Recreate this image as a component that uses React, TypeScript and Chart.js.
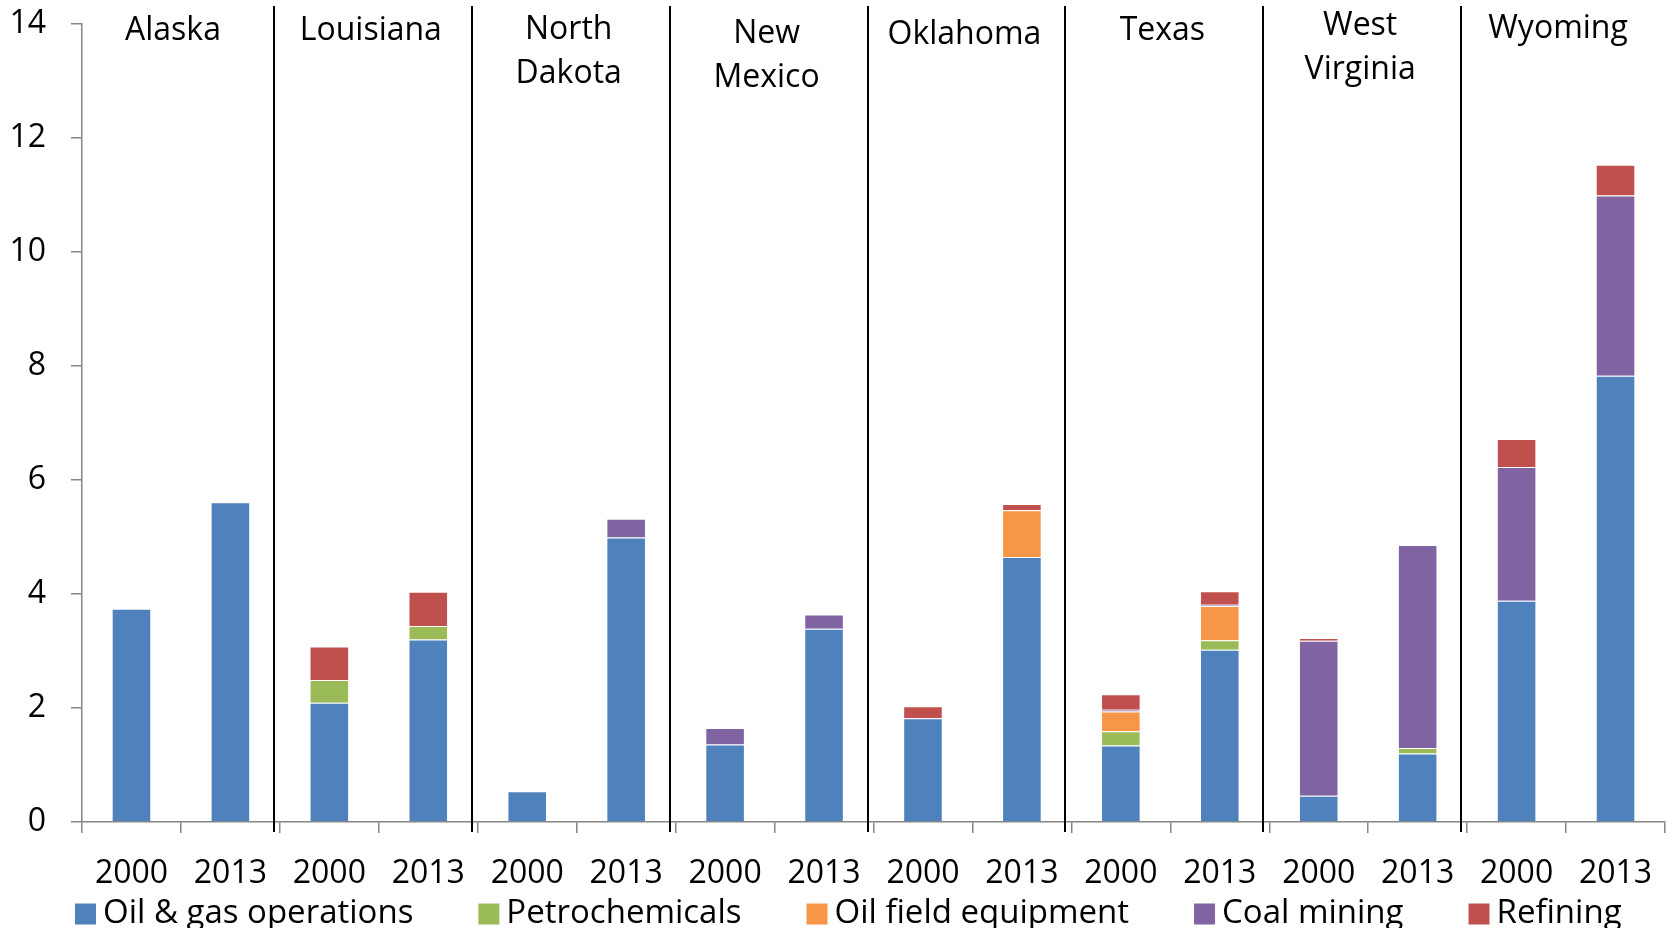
import React, { useEffect, useRef } from 'react';
import { Chart, registerables } from 'chart.js';

Chart.register(...registerables);

// ---- Data ----
const yearLabels = ['2000', '2013', '2000', '2013', '2000', '2013', '2000', '2013', '2000', '2013', '2000', '2013', '2000', '2013', '2000', '2013'];
const stateNames = [['Alaska'], ['Louisiana'], ['North', 'Dakota'], ['New', 'Mexico'], ['Oklahoma'], ['Texas'], ['West', 'Virginia'], ['Wyoming']];
const stateLabelDy = [0, 0, -1, 3, 4, 0, -5, -2];

const oilGasOperations = [3.74, 5.61, 2.09, 3.20, 0.54, 4.99, 1.36, 3.39, 1.82, 4.65, 1.34, 3.02, 0.46, 1.20, 3.88, 7.83];
const petrochemicals = [0, 0, 0.40, 0.24, 0, 0, 0, 0, 0, 0, 0.25, 0.17, 0, 0.10, 0, 0];
const oilFieldEquipment = [0, 0, 0, 0, 0, 0, 0, 0, 0, 0.82, 0.35, 0.60, 0, 0, 0, 0];
const coalMining = [0, 0, 0, 0, 0, 0.33, 0.29, 0.25, 0, 0, 0.03, 0.02, 2.72, 3.56, 2.35, 3.16];
const refining = [0, 0, 0.59, 0.60, 0, 0, 0, 0, 0.21, 0.11, 0.27, 0.24, 0.05, 0, 0.49, 0.54];

const seriesNames = ['Oil & gas operations', 'Petrochemicals', 'Oil field equipment', 'Coal mining', 'Refining'];
const seriesColors = ['#4F81BD', '#9BBB59', '#F79646', '#8064A2', '#C0504D'];
const seriesValues = [oilGasOperations, petrochemicals, oilFieldEquipment, coalMining, refining];

const yTicks = { min: 0, max: 14, step: 2 };

const FONT = '"Open Sans", sans-serif';
const FONT_SIZE = 32;
const LEGEND_FONT_SIZE = 33;
const AXIS_GRAY = '#868686';

const decorPlugin = {
  id: 'decor',
  afterDraw(chart: any) {
    const { ctx, chartArea } = chart;
    const x = chart.scales.x;
    ctx.save();
    // separators between states
    ctx.strokeStyle = '#000';
    ctx.lineWidth = 2;
    for (let k = 1; k < stateNames.length; k++) {
      const xp = Math.round((x.getPixelForValue(2 * k - 1) + x.getPixelForValue(2 * k)) / 2) - 6;
      ctx.beginPath();
      ctx.moveTo(xp, 6);
      ctx.lineTo(xp, chartArea.bottom + 10);
      ctx.stroke();
    }
    // state labels
    ctx.fillStyle = '#000';
    ctx.font = `${FONT_SIZE}px ${FONT}`;
    ctx.textAlign = 'center';
    ctx.textBaseline = 'middle';
    stateNames.forEach((lines, i) => {
      const cx = (x.getPixelForValue(2 * i) + x.getPixelForValue(2 * i + 1)) / 2 - 8;
      lines.forEach((t, j) => ctx.fillText(t, cx, 31 + stateLabelDy[i] + j * 44));
    });
    // legend
    ctx.font = `${LEGEND_FONT_SIZE}px ${FONT}`;
    const ds = chart.data.datasets;
    const box = 21;
    const boxGap = 7;
    const itemGap = 65;
    ctx.textAlign = 'left';
    const widths = ds.map((d: any) => ctx.measureText(d.label).width);
    let lx = chartArea.left - 7;
    const ly = 914;
    ds.forEach((d: any, i: number) => {
      ctx.fillStyle = d.backgroundColor;
      ctx.fillRect(lx, ly - box / 2, box, box);
      ctx.fillStyle = '#000';
      ctx.fillText(d.label, lx + box + boxGap, ly);
      lx += box + boxGap + widths[i] + itemGap;
    });
    ctx.restore();
  },
};

export default function App() {
  const canvasRef = useRef<HTMLCanvasElement | null>(null);

  useEffect(() => {
    if (!canvasRef.current) return;
    const chart = new Chart(canvasRef.current, {
      type: 'bar',
      data: {
        labels: yearLabels,
        datasets: seriesNames.map((name, i) => ({
          label: name,
          data: seriesValues[i],
          backgroundColor: seriesColors[i],
          borderColor: 'rgba(255,255,255,0.4)',
          borderWidth: 1,
          barPercentage: 0.4,
          categoryPercentage: 1,
        })),
      },
      options: {
        animation: false,
        responsive: false,
        maintainAspectRatio: false,
        layout: { padding: { left: 0, right: 6, top: 24, bottom: 0 } },
        plugins: { legend: { display: false }, tooltip: { enabled: false } },
        scales: {
          x: {
            stacked: true,
            grid: { offset: true, drawOnChartArea: false, drawTicks: true, tickLength: 11, color: AXIS_GRAY, lineWidth: 1.5 },
            border: { color: AXIS_GRAY, width: 1.5 },
            ticks: { color: '#000', font: { family: FONT, size: FONT_SIZE }, padding: 22, maxRotation: 0, autoSkip: false },
            afterFit: (s: any) => { s.height = 106; s.paddingRight = 0; s.paddingLeft = 0; },
          },
          y: {
            stacked: true,
            min: yTicks.min,
            max: yTicks.max,
            ticks: { stepSize: yTicks.step, color: '#000', font: { family: FONT, size: FONT_SIZE }, padding: 25 },
            grid: { drawOnChartArea: false, drawTicks: true, tickLength: 11, color: AXIS_GRAY, lineWidth: 1.5 },
            border: { color: AXIS_GRAY, width: 1.5 },
            afterFit: (s: any) => { s.width = 82; s.paddingTop = 10; s.paddingBottom = 10; },
          },
        },
      } as any,
      plugins: [decorPlugin],
    });
    return () => chart.destroy();
  }, []);

  return (
    <div style={{ position: 'fixed', left: 0, top: 0, width: 1671, height: 928, background: '#fff' }}>
      <canvas ref={canvasRef} width={1671} height={928} style={{ display: 'block' }} />
    </div>
  );
}
